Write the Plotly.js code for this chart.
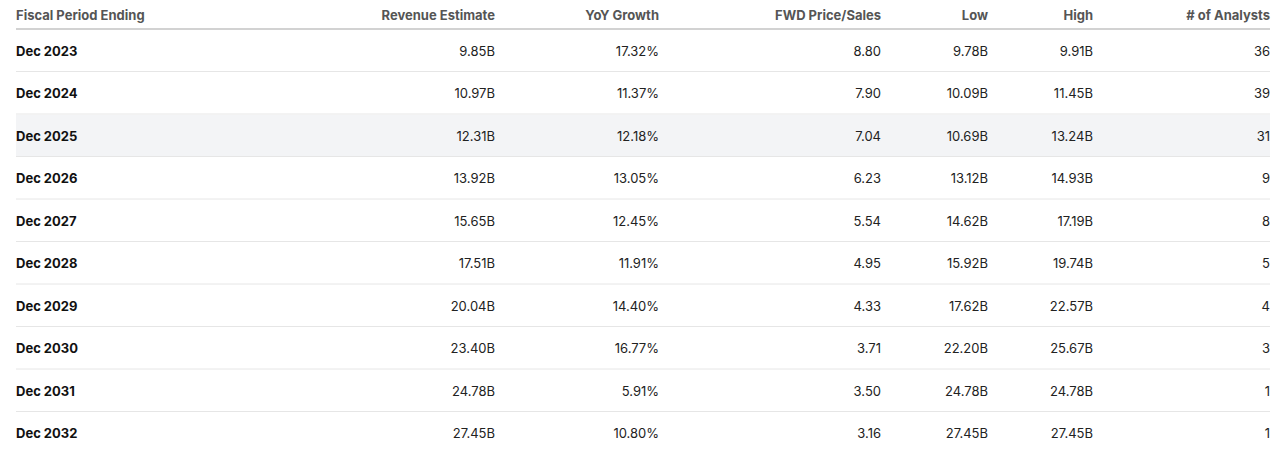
<!DOCTYPE html>
<html>
<head>
<meta charset="utf-8">
<script src="https://cdn.plot.ly/plotly-3.0.1.min.js"></script>
<style>
html,body{margin:0;padding:0;overflow:hidden;background:#fff;}
#chart{width:1280px;height:466px;}
</style>
</head>
<body>
<div id="chart"></div>
<script>
const headers = ["Fiscal Period Ending","Revenue Estimate","YoY Growth","FWD Price/Sales","Low","High","# of Analysts"];
const periods = ["Dec 2023","Dec 2024","Dec 2025","Dec 2026","Dec 2027","Dec 2028","Dec 2029","Dec 2030","Dec 2031","Dec 2032"];
const revenueEstimate = ["9.85B","10.97B","12.31B","13.92B","15.65B","17.51B","20.04B","23.40B","24.78B","27.45B"];
const yoyGrowth = ["17.32%","11.37%","12.18%","13.05%","12.45%","11.91%","14.40%","16.77%","5.91%","10.80%"];
const fwdPriceSales = ["8.80","7.90","7.04","6.23","5.54","4.95","4.33","3.71","3.50","3.16"];
const low = ["9.78B","10.09B","10.69B","13.12B","14.62B","15.92B","17.62B","22.20B","24.78B","27.45B"];
const high = ["9.91B","11.45B","13.24B","14.93B","17.19B","19.74B","22.57B","25.67B","24.78B","27.45B"];
const analysts = ["36","39","31","9","8","5","4","3","1","1"];
const highlightedRow = 2;

const W = 1280, H = 466;
const HEADER_LINE = 29, ROW_H = 42.5;   // visual grid (px)
const TABLE_TOP = 2, HEADER_H = 36;     // table trace placement so text sits centred
const LEFT = 8, RIGHT = 1278;
const colWidths = [292, 203, 164, 222, 107, 105, 177];
const FONT = "Inter, 'Helvetica Neue', Arial, sans-serif";

const px2y = p => 1 - p / H;
const shapes = [];
shapes.push({type:'rect', xref:'paper', yref:'paper', layer:'below',
  x0: 16/W, x1: 1270/W,
  y0: px2y(HEADER_LINE + highlightedRow*ROW_H + 1), y1: px2y(HEADER_LINE + (highlightedRow+1)*ROW_H),
  fillcolor:'#f3f4f6', line:{width:0}});
shapes.push({type:'line', xref:'paper', yref:'paper', x0:16/W, x1:1270/W,
  y0:px2y(HEADER_LINE), y1:px2y(HEADER_LINE), line:{color:'#d2d2d2', width:2}});
for (let i = 1; i < periods.length; i++) {
  const y = HEADER_LINE + i*ROW_H;
  shapes.push({type:'line', xref:'paper', yref:'paper', x0:16/W, x1:1270/W,
    y0:px2y(y), y1:px2y(y), line:{color:'#e6e6e6', width:1}});
}

const trace = {
  type:'table',
  domain:{x:[LEFT/W, RIGHT/W], y:[0, px2y(TABLE_TOP)]},
  columnwidth: colWidths,
  header:{
    values: headers,
    align:['left','right','right','right','right','right','right'],
    height: HEADER_H,
    fill:{color:'rgba(0,0,0,0)'},
    line:{width:0, color:'rgba(0,0,0,0)'},
    font:{family:FONT, size:13, color:'#555555', weight:700}
  },
  cells:{
    values:[periods, revenueEstimate, yoyGrowth, fwdPriceSales, low, high, analysts],
    align:['left','right','right','right','right','right','right'],
    height: ROW_H,
    fill:{color:'rgba(0,0,0,0)'},
    line:{width:0, color:'rgba(0,0,0,0)'},
    font:{family:FONT, size:13, color:['#111111','#222222','#222222','#222222','#222222','#222222','#222222'],
          weight:[700,400,400,400,400,400,400]}
  }
};

Plotly.newPlot('chart', [trace], {
  width:W, height:H,
  margin:{l:0,r:0,t:0,b:0},
  paper_bgcolor:'#ffffff',
  shapes: shapes
}, {displayModeBar:false, staticPlot:true});
</script>
</body>
</html>
